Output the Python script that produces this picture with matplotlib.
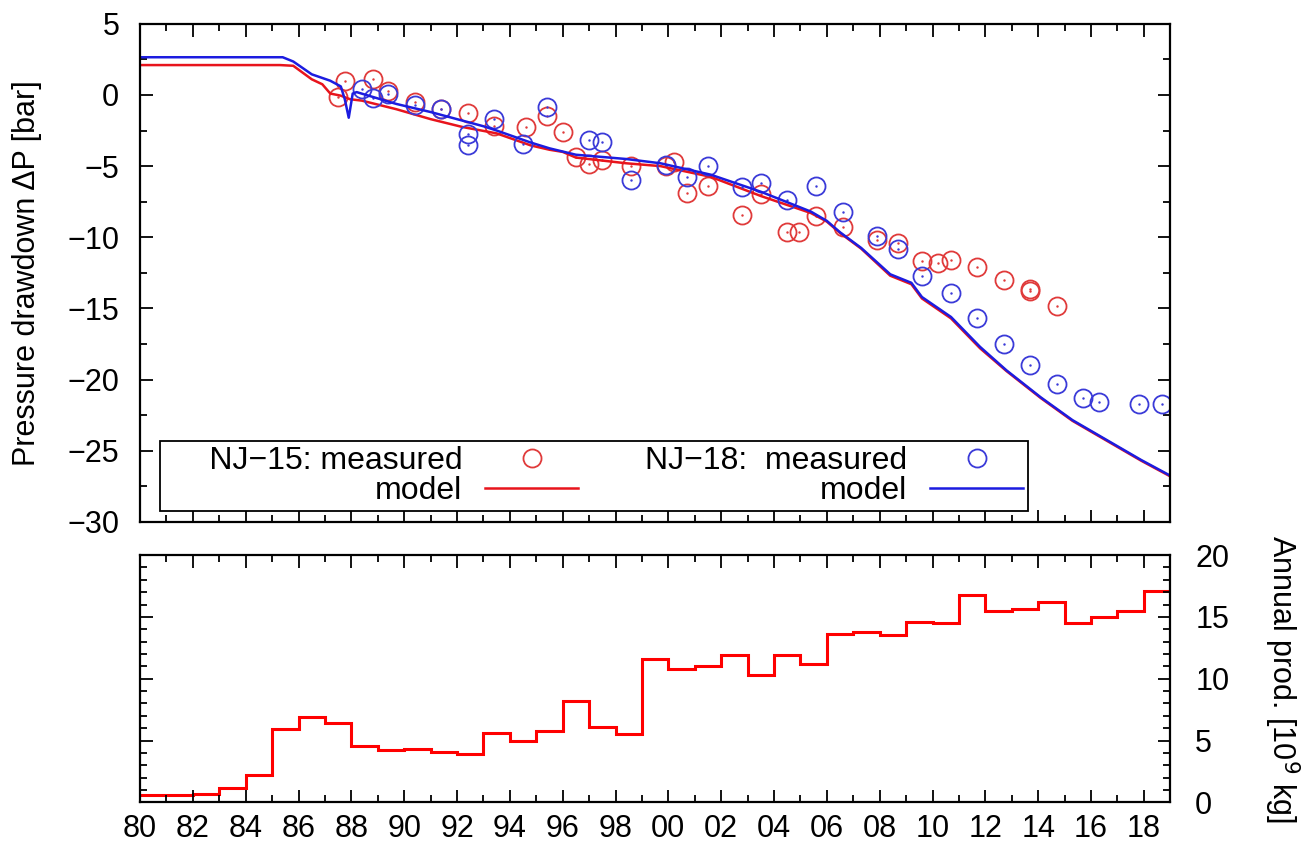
import numpy as np
import matplotlib.pyplot as plt
from matplotlib.ticker import MultipleLocator, FuncFormatter

plt.rcParams['font.family'] = ['Liberation Sans', 'DejaVu Sans']
plt.rcParams['font.size'] = 22

# --- model curves (pressure drawdown, bar) ---
nj15_model_year = [1980, 1985.3, 1985.8, 1986.5, 1986.9, 1987.2, 1987.6, 1987.95, 1988.4,
                   1989.7, 1991.0, 1992.2, 1993.5, 1994.8, 1995.5, 1996.0, 1996.5, 1998.4,
                   1999.7, 2001.6, 2003.5, 2005.4, 2006.0, 2006.5, 2007.3, 2008.4, 2009.2,
                   2009.6, 2010.7, 2011.8, 2012.8, 2014.1, 2015.3, 2016.6, 2017.9, 2019.0]
nj15_model_dp = [2.1, 2.1, 2.05, 1.1, 0.75, 0.1, -0.05, -0.3, -0.4,
                 -1.0, -1.7, -2.25, -2.7, -3.55, -3.85, -4.0, -4.4, -4.8,
                 -5.0, -5.75, -7.1, -8.3, -8.9, -9.7, -10.8, -12.7, -13.3,
                 -14.3, -15.7, -17.8, -19.4, -21.3, -22.9, -24.3, -25.7, -26.8]

nj18_model_year = [1980, 1985.4, 1985.8, 1986.5, 1987.2, 1987.6, 1987.75, 1987.9, 1988.05,
                   1988.2, 1989.7, 1991.0, 1992.2, 1993.0, 1993.5, 1994.8, 1995.5, 1996.5,
                   1998.4, 1999.7, 2001.6, 2003.5, 2005.4, 2006.0, 2006.5, 2007.3, 2008.4,
                   2009.2, 2009.6, 2010.7, 2011.8, 2012.8, 2014.1, 2015.3, 2016.6, 2017.9, 2019.0]
nj18_model_dp = [2.65, 2.65, 2.35, 1.45, 1.0, 0.6, -0.3, -1.6, 0.1,
                 0.2, -0.63, -1.2, -1.8, -2.2, -2.5, -3.35, -3.75, -4.2,
                 -4.5, -4.8, -5.6, -6.8, -8.2, -8.85, -9.65, -10.75, -12.6,
                 -13.2, -14.2, -15.6, -17.7, -19.35, -21.25, -22.85, -24.25, -25.65, -26.75]

# --- measured drawdown ---
nj15_meas_year = [1987.5, 1987.76, 1988.8, 1989.4, 1990.4, 1991.4, 1992.4, 1993.4, 1994.6,
                  1995.4, 1996.0, 1996.5, 1997.0, 1997.5, 1998.6, 1999.9, 2000.2, 2000.7,
                  2001.5, 2002.8, 2003.5, 2004.5, 2004.95, 2005.6, 2006.6, 2007.9, 2008.7,
                  2009.6, 2010.2, 2010.7, 2011.7, 2012.7, 2013.7, 2013.7, 2014.7]
nj15_meas_dp = [-0.15, 0.98, 1.12, 0.25, -0.5, -0.98, -1.26, -2.15, -2.27,
                -1.46, -2.6, -4.36, -4.85, -4.55, -4.97, -4.97, -4.7, -6.87,
                -6.38, -8.4, -6.94, -9.6, -9.6, -8.5, -9.25, -10.2, -10.4,
                -11.7, -11.8, -11.6, -12.1, -13.0, -13.6, -13.8, -14.8]

nj18_meas_year = [1988.4, 1988.8, 1989.4, 1990.4, 1991.4, 1992.4, 1992.4, 1993.4, 1994.5,
                  1995.4, 1997.0, 1997.5, 1998.6, 1999.9, 2000.7, 2001.5, 2002.8, 2003.5,
                  2004.5, 2005.6, 2006.6, 2007.9, 2008.7, 2009.6, 2010.7, 2011.7, 2012.7,
                  2013.7, 2014.7, 2015.7, 2016.3, 2017.8, 2018.7]
nj18_meas_dp = [0.42, -0.23, 0.07, -0.7, -1.0, -2.73, -3.5, -1.68, -3.43,
                -0.86, -3.2, -3.3, -6.0, -4.9, -5.8, -4.97, -6.45, -6.17,
                -7.4, -6.4, -8.2, -9.9, -10.8, -12.7, -13.9, -15.7, -17.5,
                -19.0, -20.3, -21.3, -21.6, -21.7, -21.7]

# --- annual production (10^9 kg), one value per year 1980..2018 ---
prod_edges = np.arange(1980, 2020)
annual_prod = [0.6, 0.6, 0.65, 1.2, 2.2, 5.9, 6.9, 6.4, 4.6, 4.2,
               4.3, 4.1, 3.9, 5.6, 5.0, 5.8, 8.2, 6.1, 5.5, 11.6,
               10.8, 11.0, 11.9, 10.3, 11.9, 11.2, 13.6, 13.8, 13.5, 14.6,
               14.5, 16.8, 15.5, 15.6, 16.2, 14.5, 15.0, 15.5, 17.1]

red = '#e8141c'
blue = '#1c1ce0'
red_pt = '#e03a3a'
blue_pt = '#3a3ad8'

fig = plt.figure(figsize=(13.09, 8.5), dpi=100)
ax = fig.add_axes([0.107, 0.386, 0.787, 0.586])
ax2 = fig.add_axes([0.107, 0.056, 0.787, 0.291])

# top panel
h1, = ax.plot(nj15_meas_year, nj15_meas_dp, 'o', ms=13, mfc='none', mec=red_pt, mew=1.3)
ax.plot(nj15_meas_year, nj15_meas_dp, '.', ms=1.5, color=red_pt)
h2, = ax.plot(nj15_model_year, nj15_model_dp, color=red, lw=1.8)
h3, = ax.plot(nj18_meas_year, nj18_meas_dp, 'o', ms=13, mfc='none', mec=blue_pt, mew=1.3)
ax.plot(nj18_meas_year, nj18_meas_dp, '.', ms=1.5, color=blue_pt)
h4, = ax.plot(nj18_model_year, nj18_model_dp, color=blue, lw=1.8)

ax.set_xlim(1980, 2019)
ax.set_ylim(-30, 5)
ax.set_ylabel('Pressure drawdown ΔP [bar]', labelpad=18)
ax.yaxis.set_major_locator(MultipleLocator(5))
ax.yaxis.set_minor_locator(MultipleLocator(2.5))
ax.set_xticklabels([])

leg = ax.legend([h1, h2, h3, h4],
                ['     NJ\u221215: measured', 'model', 'NJ\u221218:  measured', 'model'],
                ncol=2, markerfirst=False, loc='lower left',
                bbox_to_anchor=(0.0194, 0.022), borderaxespad=0,
                fancybox=False, edgecolor='black', framealpha=1,
                handlelength=2.9, handletextpad=0.72, columnspacing=2.1,
                labelspacing=0.0, borderpad=0.15, fontsize=23)
leg.get_frame().set_linewidth(1.3)

# bottom panel
ax2.stairs(annual_prod, prod_edges, color='red', lw=2.2, baseline=None)
ax2.set_xlim(1980, 2019)
ax2.set_ylim(0, 20)
ax2.yaxis.set_major_locator(MultipleLocator(5))
ax2.yaxis.set_minor_locator(MultipleLocator(1))
ax2.yaxis.tick_right()
ax2.yaxis.set_label_position('right')
ax2.set_ylabel('Annual prod. [10$^9$ kg]', rotation=-90, labelpad=52)

for a in (ax, ax2):
    a.xaxis.set_major_locator(MultipleLocator(2))
    a.xaxis.set_minor_locator(MultipleLocator(1))
    a.tick_params(which='both', direction='in', top=True, bottom=True, left=True, right=True,
                  width=1.3)
    a.tick_params(which='major', length=9)
    a.tick_params(which='minor', length=5)
    a.tick_params(axis='x', which='major', pad=8)
    for s in a.spines.values():
        s.set_linewidth(1.6)

ax.tick_params(axis='y', which='major', pad=15)
ax2.tick_params(axis='y', which='major', pad=18)
ax2.xaxis.set_major_formatter(FuncFormatter(lambda v, p: '%02d' % (int(round(v)) % 100)))

fig.savefig('out.png', dpi=100)
